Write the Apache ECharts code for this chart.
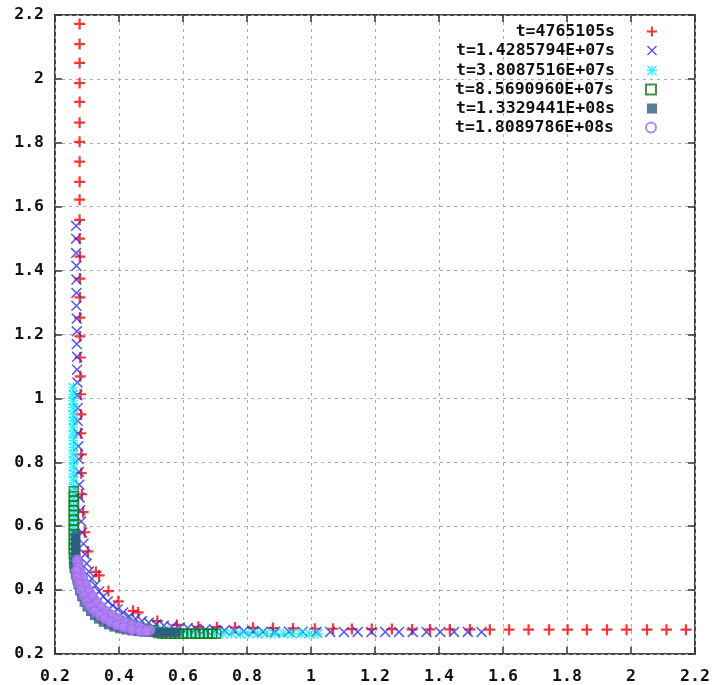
<!DOCTYPE html>
<html>
<head>
<meta charset="utf-8">
<script src="https://cdn.jsdelivr.net/npm/echarts@6/dist/echarts.min.js"></script>
<style>html,body{margin:0;padding:0;background:#fff}#c{width:717px;height:685px}</style>
</head>
<body>
<div id="c"></div>
<script>
// ---- data ----
const seriesNames = ['t=4765105s','t=1.4285794E+07s','t=3.8087516E+07s','t=8.5690960E+07s','t=1.3329441E+08s','t=1.8089786E+08s'];
const axisTicks = [0.2,0.4,0.6,0.8,1.0,1.2,1.4,1.6,1.8,2.0,2.2];

const redPts = [[0.277,2.172],[0.277,2.109],[0.277,2.050],[0.277,1.987],[0.277,1.928],[0.277,1.863],[0.277,1.803],[0.277,1.741],[0.277,1.678],[0.277,1.622],[0.277,1.559],[0.277,1.500],[0.278,1.444],[0.278,1.375],[0.278,1.316],[0.278,1.253],[0.278,1.194],[0.279,1.128],[0.279,1.069],[0.280,1.013],[0.281,0.950],[0.281,0.891],[0.282,0.825],[0.282,0.766],[0.284,0.700],[0.288,0.644],[0.293,0.581],[0.303,0.521],[0.328,0.457],[0.338,0.446],[0.367,0.397],[0.398,0.365],[0.444,0.335],[0.460,0.330],[0.520,0.303],[0.581,0.291],[0.648,0.285],[0.706,0.284],[0.763,0.283],[0.819,0.282],[0.881,0.281],[0.944,0.280],[1.012,0.279],[1.069,0.279],[1.128,0.278],[1.190,0.278],[1.253,0.278],[1.316,0.277],[1.372,0.277],[1.434,0.277],[1.497,0.277],[1.559,0.276],[1.619,0.276],[1.680,0.276],[1.744,0.276],[1.802,0.276],[1.862,0.276],[1.925,0.276],[1.986,0.276],[2.050,0.276],[2.111,0.276],[2.172,0.276]];

const bluePts = [[0.266,1.540],[0.266,1.500],[0.266,1.455],[0.267,1.415],[0.267,1.372],[0.267,1.330],[0.267,1.290],[0.268,1.250],[0.268,1.210],[0.268,1.170],[0.269,1.130],[0.269,1.090],[0.270,1.050],[0.270,1.010],[0.271,0.970],[0.271,0.930],[0.272,0.890],[0.273,0.850],[0.274,0.810],[0.275,0.770],[0.276,0.730],[0.277,0.690],[0.279,0.650],[0.282,0.615],[0.285,0.580],[0.289,0.545],[0.294,0.512],[0.299,0.483],[0.306,0.458],[0.315,0.436],[0.326,0.415],[0.338,0.396],[0.351,0.380],[0.365,0.365],[0.380,0.352],[0.396,0.340],[0.413,0.330],[0.432,0.318],[0.452,0.310],[0.472,0.303],[0.493,0.298],[0.516,0.293],[0.540,0.289],[0.565,0.285],[0.590,0.283],[0.615,0.281],[0.640,0.279],[0.670,0.277],[0.700,0.275],[0.730,0.274],[0.760,0.273],[0.790,0.272],[0.820,0.271],[0.850,0.270],[0.888,0.270],[0.931,0.270],[0.974,0.270],[1.017,0.269],[1.060,0.269],[1.103,0.269],[1.146,0.269],[1.189,0.269],[1.232,0.269],[1.275,0.269],[1.318,0.269],[1.361,0.269],[1.404,0.269],[1.447,0.269],[1.490,0.269],[1.533,0.269]];

const cyanPts = [[0.257,1.034],[0.257,1.012],[0.257,0.992],[0.257,0.971],[0.257,0.950],[0.257,0.930],[0.257,0.909],[0.257,0.888],[0.258,0.868],[0.258,0.847],[0.258,0.826],[0.258,0.806],[0.258,0.785],[0.258,0.764],[0.258,0.744],[0.258,0.723],[0.258,0.703],[0.258,0.682],[0.258,0.661],[0.258,0.641],[0.258,0.620],[0.258,0.600],[0.258,0.579],[0.258,0.558],[0.258,0.538],[0.258,0.518],[0.259,0.498],[0.262,0.470],[0.268,0.445],[0.276,0.420],[0.286,0.398],[0.298,0.378],[0.312,0.361],[0.327,0.346],[0.344,0.333],[0.362,0.322],[0.381,0.312],[0.401,0.303],[0.422,0.296],[0.444,0.290],[0.467,0.284],[0.490,0.280],[0.515,0.276],[0.540,0.273],[0.565,0.270],[0.590,0.267],[0.617,0.265],[0.644,0.264],[0.671,0.264],[0.698,0.264],[0.725,0.263],[0.752,0.264],[0.779,0.263],[0.806,0.264],[0.833,0.263],[0.860,0.264],[0.887,0.263],[0.914,0.264],[0.941,0.263],[0.968,0.264],[0.995,0.263],[1.022,0.263]];

const greenPts = [[0.259,0.709],[0.259,0.694],[0.259,0.679],[0.259,0.664],[0.259,0.649],[0.259,0.634],[0.259,0.619],[0.259,0.604],[0.259,0.589],[0.259,0.574],[0.259,0.559],[0.259,0.544],[0.259,0.529],[0.259,0.514],[0.260,0.499],[0.260,0.484],[0.262,0.468],[0.266,0.450],[0.272,0.430],[0.280,0.410],[0.290,0.392],[0.302,0.375],[0.315,0.360],[0.330,0.346],[0.346,0.334],[0.363,0.323],[0.381,0.313],[0.400,0.304],[0.420,0.296],[0.440,0.289],[0.462,0.283],[0.484,0.278],[0.505,0.274],[0.522,0.266],[0.535,0.264],[0.548,0.263],[0.561,0.263],[0.574,0.263],[0.587,0.263],[0.600,0.263],[0.613,0.263],[0.626,0.263],[0.639,0.263],[0.652,0.263],[0.665,0.263],[0.678,0.263],[0.691,0.263],[0.704,0.263]];

const slatePts = [[0.265,0.572],[0.265,0.562],[0.265,0.552],[0.265,0.542],[0.265,0.532],[0.265,0.522],[0.265,0.512],[0.265,0.502],[0.265,0.492],[0.265,0.482],[0.265,0.468],[0.266,0.452],[0.268,0.435],[0.272,0.416],[0.277,0.397],[0.283,0.379],[0.291,0.362],[0.300,0.347],[0.311,0.333],[0.323,0.320],[0.336,0.309],[0.351,0.299],[0.367,0.291],[0.384,0.284],[0.402,0.279],[0.421,0.275],[0.440,0.272],[0.459,0.270],[0.478,0.268],[0.492,0.268],[0.502,0.268],[0.512,0.268],[0.522,0.268],[0.532,0.268],[0.542,0.268],[0.552,0.268],[0.562,0.268],[0.572,0.268],[0.582,0.268]];

const purplePts = [[0.270,0.495],[0.271,0.488],[0.272,0.480],[0.274,0.471],[0.276,0.462],[0.278,0.454],[0.281,0.445],[0.284,0.436],[0.288,0.426],[0.292,0.417],[0.297,0.408],[0.302,0.398],[0.307,0.389],[0.313,0.379],[0.319,0.369],[0.325,0.360],[0.332,0.351],[0.339,0.343],[0.346,0.336],[0.353,0.329],[0.361,0.322],[0.369,0.316],[0.377,0.310],[0.386,0.305],[0.395,0.300],[0.405,0.295],[0.416,0.291],[0.427,0.287],[0.438,0.284],[0.450,0.281],[0.463,0.279],[0.474,0.277],[0.485,0.276],[0.497,0.275],
[0.274,0.470],[0.280,0.454],[0.287,0.438],[0.296,0.418],[0.306,0.399],[0.318,0.381],[0.331,0.363],[0.345,0.347],[0.361,0.333],[0.378,0.321],[0.397,0.310],[0.418,0.300],[0.440,0.292],[0.463,0.285],
[0.266,0.460],[0.268,0.440],[0.274,0.420],[0.281,0.400],[0.290,0.381],[0.300,0.363],[0.312,0.347],[0.325,0.333],[0.340,0.321],[0.356,0.310],[0.374,0.300],[0.394,0.291],[0.415,0.284],[0.440,0.277],[0.465,0.272],[0.485,0.271]];

// ---- styling ----
const FONT = 'DejaVu Sans Mono';
const plusPath = 'path://M4,0H6V10H4Z M0,4H10V6H0Z';
const crossPath = 'path://M0,1L1,0L10,9L9,10Z M9,0L10,1L1,10L0,9Z';
const starPath = 'path://M4.35,0H5.65V10H4.35Z M0,4.35H10V5.65H0Z M0,1L1,0L10,9L9,10Z M9,0L10,1L1,10L0,9Z';

const colors = ['#ff0000','#3030ee','#00eeff','#107a10','#2e5e7e','#a06cf0'];

const gridRect = {left:55, top:15, width:640, height:640};
const labelStyle = {fontFamily: FONT, fontWeight: 'bold', fontSize: 16.5, color: '#111'};

function fmt(v){ return String(parseFloat(Number(v).toFixed(1))); }

const baseAxis = {
  min: axisTicks[0], max: axisTicks[axisTicks.length-1], interval: 0.2,
  axisLine: {show: false},
  axisTick: {show: true, inside: true, length: 7, lineStyle: {color: '#333', width: 1.5}},
  splitLine: {show: false}
};

const series = [
  {data: redPts, symbol: plusPath, symbolSize: 11, itemStyle: {color: colors[0]}},
  {data: bluePts, symbol: crossPath, symbolSize: 11, itemStyle: {color: colors[1]}},
  {data: cyanPts, symbol: starPath, symbolSize: 10, itemStyle: {color: colors[2]}},
  {data: greenPts, symbol: 'rect', symbolSize: 9, itemStyle: {color: 'rgba(255,255,255,0)', borderColor: colors[3], borderWidth: 1.5}},
  {data: slatePts, symbol: 'rect', symbolSize: 9, itemStyle: {color: colors[4]}},
  {data: purplePts, symbol: 'circle', symbolSize: 9.5, itemStyle: {color: '#b385f4', borderColor: colors[5], borderWidth: 1.5}}
].map((s, i) => Object.assign({type: 'scatter', name: seriesNames[i], xAxisIndex: 0, yAxisIndex: 0, animation: false}, s));

const legendRowsTop = [23, 42, 62, 81, 100, 119];
const legends = seriesNames.map((n, i) => ({
  right: 60, top: legendRowsTop[i], orient: 'vertical', align: 'right',
  itemWidth: 10, itemHeight: 10, padding: 0,
  selectedMode: false,
  data: [i === 5 ? {name: n, itemStyle: {color: '#fff', borderColor: colors[5], borderWidth: 2}} : n],
  textStyle: {fontFamily: FONT, fontWeight: 'bold', fontSize: 16.5, color: '#111', padding: [0, 27, 0, 0]}
}));

const chart = echarts.init(document.getElementById('c'), null, {renderer: 'canvas'});
chart.setOption({
  backgroundColor: '#fff',
  animation: false,
  grid: Object.assign({show: true, borderColor: '#444', borderWidth: 2, backgroundColor: 'transparent'}, gridRect),
  xAxis: [
    Object.assign({}, baseAxis, {type: 'value', position: 'bottom',
      splitLine: {show: true, lineStyle: {color: '#aaa', type: [3, 4], width: 1}},
      axisLabel: Object.assign({formatter: fmt, margin: 14}, labelStyle)}),
    Object.assign({}, baseAxis, {type: 'value', position: 'top', axisLabel: {show: false}})
  ],
  yAxis: [
    Object.assign({}, baseAxis, {type: 'value', position: 'left',
      splitLine: {show: true, lineStyle: {color: '#aaa', type: [3, 4], width: 1}},
      axisLabel: Object.assign({formatter: fmt, margin: 11}, labelStyle)}),
    Object.assign({}, baseAxis, {type: 'value', position: 'right', axisLabel: {show: false}})
  ],
  legend: legends,
  series: series
});
</script>
</body>
</html>
